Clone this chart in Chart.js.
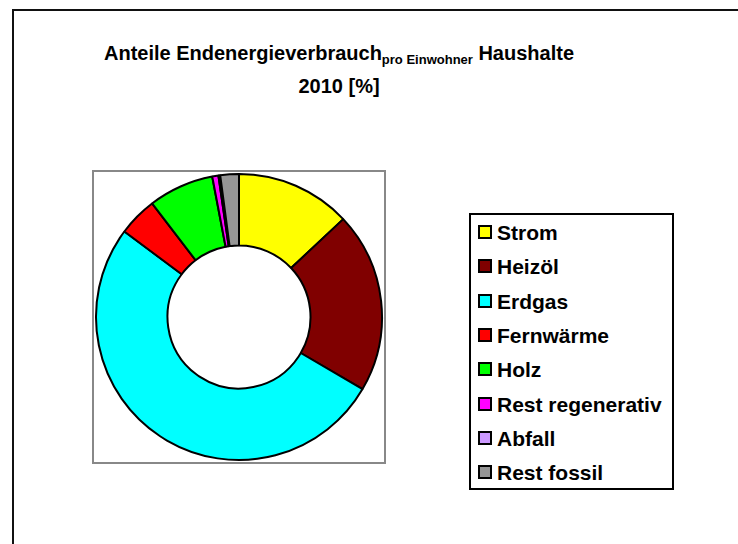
<!DOCTYPE html>
<html>
<head>
<meta charset="utf-8">
<script src="https://cdn.jsdelivr.net/npm/chart.js@4"></script>
<style>
    body { margin: 0; width: 738px; height: 544px; overflow: hidden; background: #fff; font-family: "Liberation Sans", Arial, sans-serif; position: relative; }
    #frame { position: absolute; left: 12px; top: 9px; width: 800px; height: 600px; border: 2px solid #111; }
    #title { position: absolute; left: 0; width: 678px; top: 38px; text-align: center; font-weight: bold; font-size: 20px; line-height: 30px; color: #000; }
    #title sub { font-size: 13px; vertical-align: baseline; position: relative; top: 4px; }
    #plot { position: absolute; left: 92px; top: 170px; width: 290px; height: 290px; border: 2px solid #888; }
    #legend { position: absolute; left: 469px; top: 213px; width: 201px; height: 273px; border: 2px solid #000; }
    .item { position: absolute; left: 7px; height: 22px; font-weight: bold; font-size: 21px; line-height: 22px; white-space: nowrap; }
    .item span.box { display: inline-block; width: 10px; height: 10px; border: 2px solid #000; margin-right: 5px; vertical-align: 1px; }
</style>
</head>
<body>
<div id="frame"></div>
<div id="title">Anteile Endenergieverbrauch<sub>pro Einwohner</sub> Haushalte<br>2010 [%]</div>
<div id="plot"><canvas id="chart" width="290" height="290"></canvas></div>
<div id="legend"></div>
<script>
const categories = ['Strom', 'Heizöl', 'Erdgas', 'Fernwärme', 'Holz', 'Rest regenerativ', 'Abfall', 'Rest fossil'];
const shares = [13.0, 20.4, 51.8, 4.4, 7.4, 0.7, 0.2, 2.1];
const colors = ['#FFFF00', '#800000', '#00FFFF', '#FF0000', '#00FF00', '#FF00FF', '#CC99FF', '#969696'];

const canvas = document.getElementById('chart');
const chart = new Chart(canvas, {
    type: 'doughnut',
    data: {
        labels: categories,
        datasets: [{
            data: shares,
            backgroundColor: colors,
            borderColor: '#000',
            borderWidth: 2,
        }]
    },
    options: {
        responsive: false,
        animation: false,
        cutout: '50%',
        layout: { padding: 1 },
        plugins: {
            legend: { display: false },
            tooltip: { enabled: false },
        },
    },
});

// legend built from the chart's own label items
const legend = document.getElementById('legend');
const items = chart.options.plugins.legend.labels.generateLabels(chart);
items.forEach((it, i) => {
    const row = document.createElement('div');
    row.className = 'item';
    row.style.top = (7 + i * 34.3) + 'px';
    const box = document.createElement('span');
    box.className = 'box';
    box.style.background = it.fillStyle;
    row.appendChild(box);
    row.appendChild(document.createTextNode(it.text));
    legend.appendChild(row);
});
</script>
</body>
</html>
